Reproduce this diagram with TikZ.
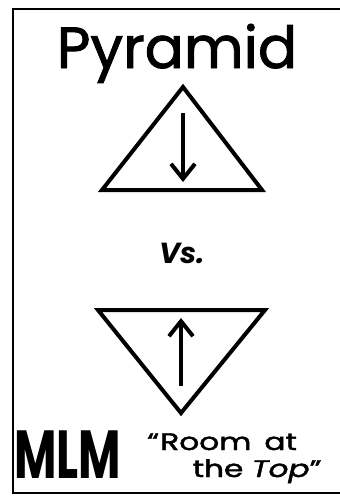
\documentclass[tikz,border=0pt]{standalone}
\usepackage{fontspec}
\setmainfont{Poppins}
\newfontfamily\titlefont{Poppins}[FakeBold=1.6]
\usetikzlibrary{arrows.meta}
\begin{document}
\begin{tikzpicture}[x=1pt,y=-1pt,
  frameline/.style={line width=2pt},
  tri/.style={line width=4pt,line join=miter},
  arr/.style={line width=4pt,-{Straight Barb[length=15pt,width=24pt,line width=4pt]}}]
\useasboundingbox (0,0) rectangle (340,496);
\fill[white] (0,0) rectangle (340,496);
% frame
\draw[frameline] (340,9) -- (13,9) -- (13,493) -- (340,493);
% title
\node[anchor=base,inner sep=0pt] (title) at (177,68) {\titlefont\fontsize{58}{64}\selectfont Pyramid};
% pyramid triangle
\coordinate (a1) at (183,87);
\coordinate (l1) at (102,190);
\coordinate (r1) at (262,190);
\draw[tri] (a1) -- (l1) -- (r1) -- cycle;
\coordinate (d1s) at (183,113);
\coordinate (d1e) at (183,182);
\draw[arr] (d1s) -- (d1e);
% vs
\node[anchor=base,inner sep=0pt] (vs) at (182,263) {\fontsize{29}{32}\selectfont\bfseries\itshape Vs.};
% inverted triangle
\coordinate (l2) at (98,310);
\coordinate (r2) at (265,310);
\coordinate (a2) at (181,413);
\draw[tri] (l2) -- (r2) -- (a2) -- cycle;
\coordinate (u1s) at (181,386);
\coordinate (u1e) at (181,318);
\draw[arr] (u1s) -- (u1e);
% MLM
\node[anchor=base west,inner sep=0pt] (mlm) at (14,478) {\scalebox{0.68}[1]{\fontsize{68}{74}\selectfont\bfseries MLM}};
\node[anchor=base west,inner sep=0pt] (quote) at (147,450) {\titlefont\fontsize{24}{27}\selectfont\scalebox{1.3}[1]{\begin{tabular}[t]{@{}l@{}}“\hspace{1pt}Room\hspace{10pt}at\\\hspace*{35pt}the \textit{Top}”\end{tabular}}};
\end{tikzpicture}
\end{document}
